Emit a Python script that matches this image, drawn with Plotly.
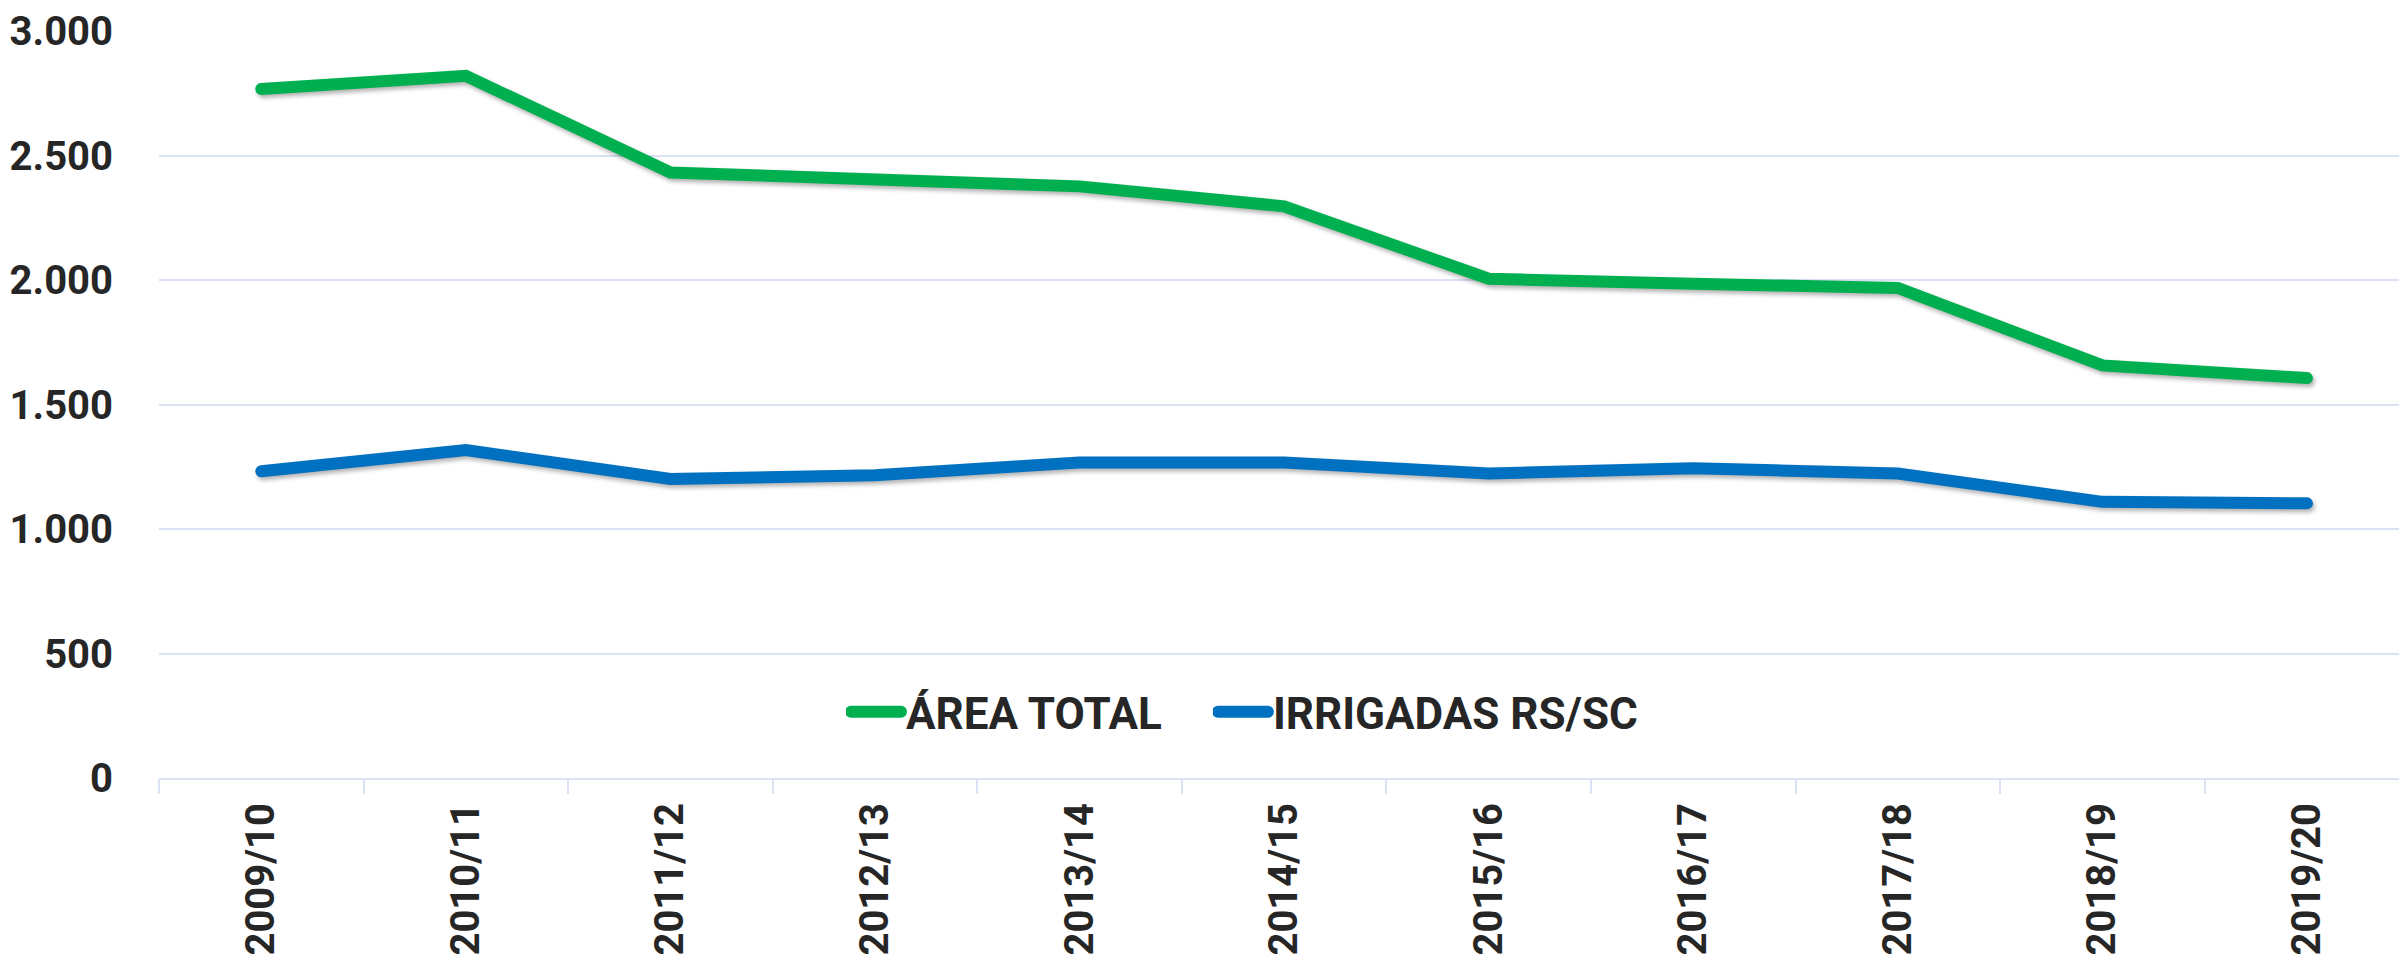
import plotly.graph_objects as go

safras = ["2009/10", "2010/11", "2011/12", "2012/13", "2013/14", "2014/15",
          "2015/16", "2016/17", "2017/18", "2018/19", "2019/20"]
area_total = [2767, 2820, 2432, 2400, 2376, 2296, 2005, 1985, 1968, 1657, 1606]
irrigadas = [1232, 1317, 1201, 1216, 1267, 1267, 1223, 1244, 1223, 1109, 1103]
series_names = ["ÁREA TOTAL", "IRRIGADAS RS/SC"]

GREEN = "#00B050"
BLUE = "#0070C0"
GRID = "#D9E3F3"
TEXT = "#262626"

fig = go.Figure()
fig.add_trace(go.Scatter(x=safras, y=area_total, name=series_names[0], mode="lines",
                         line=dict(color=GREEN, width=12), legend="legend"))
fig.add_trace(go.Scatter(x=safras, y=irrigadas, name=series_names[1], mode="lines",
                         line=dict(color=BLUE, width=12), legend="legend2"))

legend_common = dict(orientation="h", xanchor="left", y=0.088, yanchor="middle",
                     font=dict(family="Roboto", size=44, color=TEXT, weight="bold"),
                     bgcolor="rgba(0,0,0,0)", itemwidth=50)

fig.update_layout(
    width=2399, height=963,
    margin=dict(l=159, r=0, t=30, b=185, autoexpand=False),
    paper_bgcolor="white", plot_bgcolor="white",
    separators=",.",
    showlegend=True,
    legend=dict(x=0.3067, **legend_common),
    legend2=dict(x=0.4705, **legend_common),
    font=dict(family="Roboto", color=TEXT),
)
fig.update_yaxes(range=[0, 3004], dtick=500, tickformat=",d", showgrid=True,
                 gridcolor=GRID, gridwidth=2, zeroline=False, showline=False,
                 ticks="", ticklabelstandoff=45, automargin=False,
                 tickfont=dict(family="Roboto", size=40, color=TEXT, weight="bold"))
fig.update_xaxes(type="category", range=[-0.5, len(safras) - 0.55], showgrid=False,
                 showline=True, linecolor=GRID, linewidth=2,
                 ticks="outside", tickson="boundaries", ticklen=14, tickcolor=GRID, tickwidth=2,
                 tickangle=-90, ticklabelstandoff=7, automargin=False,
                 tickfont=dict(family="Roboto", size=40, color=TEXT, weight="bold"))

post = """
document.body.style.margin = '0';
var st = document.createElement('style');
st.textContent = '.scatterlayer .js-line { stroke-linecap: round; filter: drop-shadow(2px 3px 2px rgba(0,0,0,0.3)); }'
  + ' .legendlines path { stroke-linecap: round; stroke-width: 12px !important; }';
document.head.appendChild(st);
"""

fig.write_html("out.html", post_script=post, config={"displayModeBar": False})
